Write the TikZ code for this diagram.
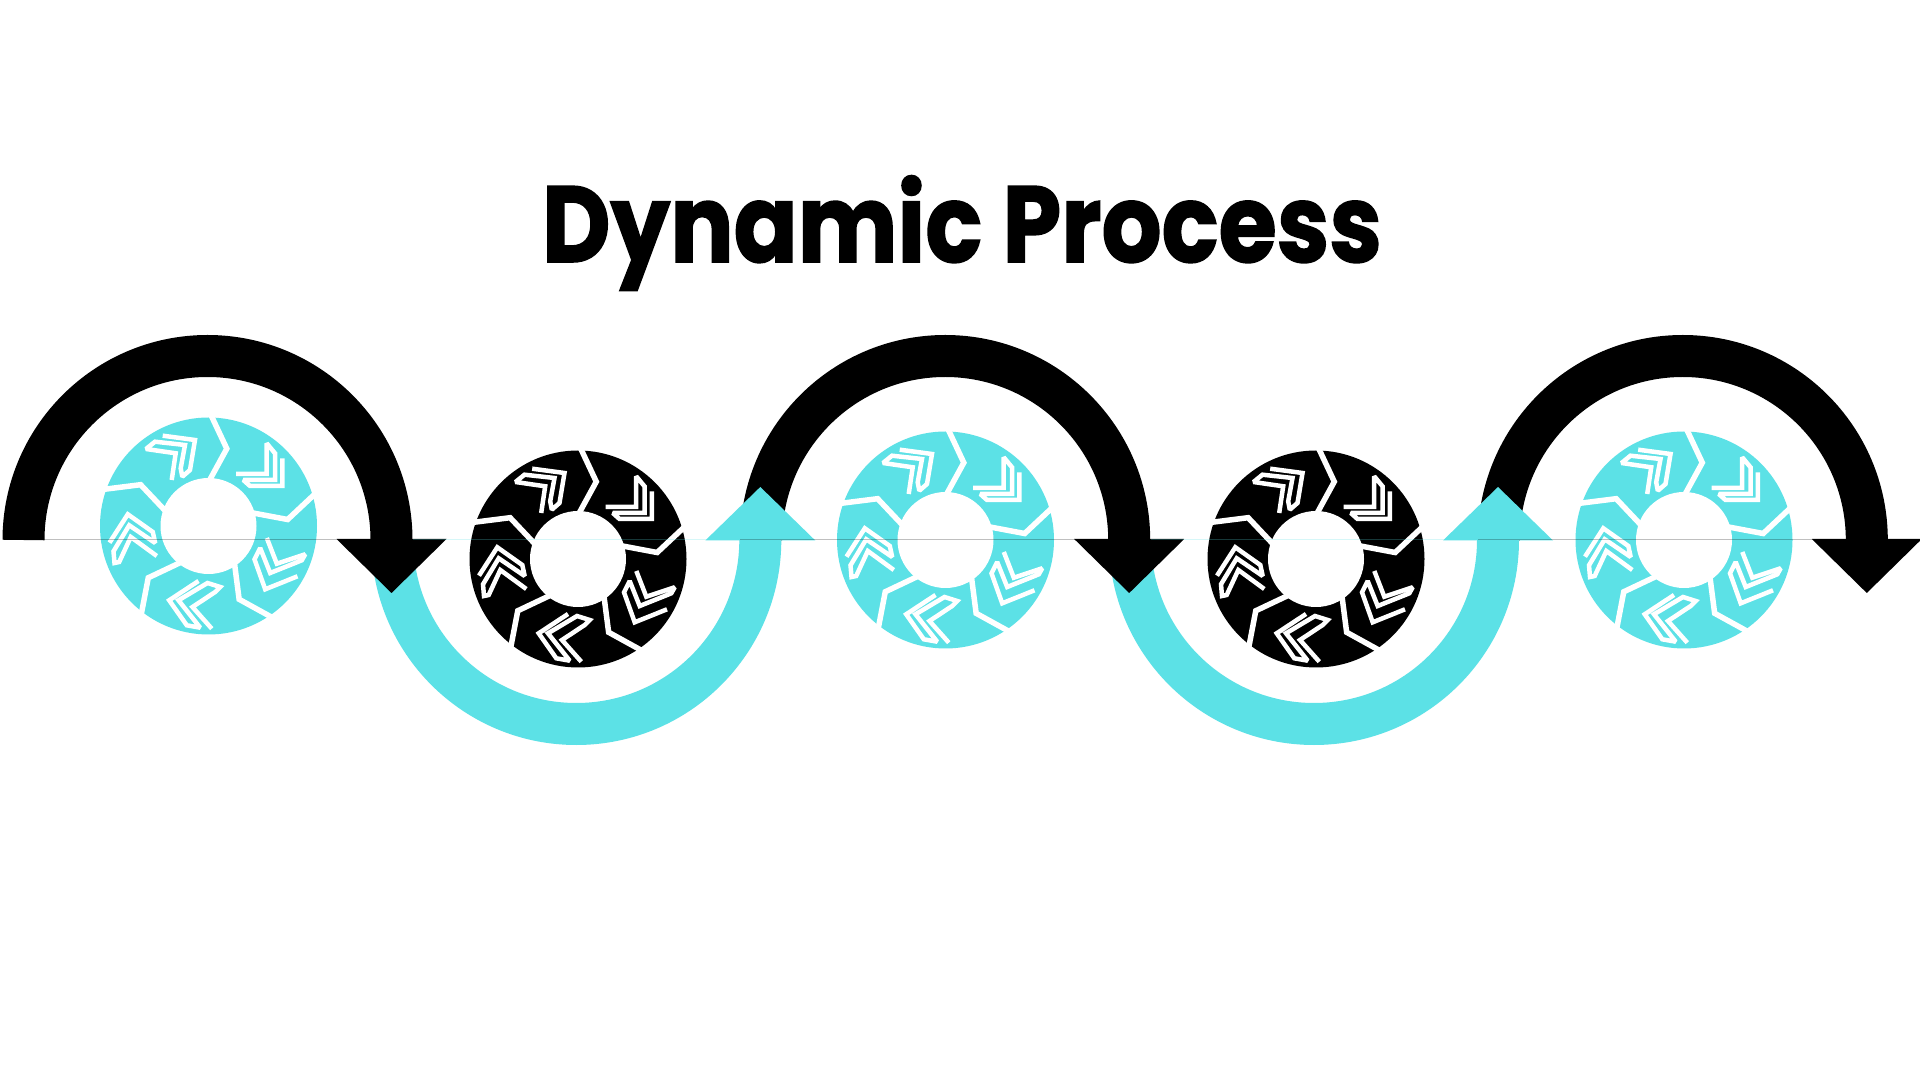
\documentclass[tikz,border=0pt]{standalone}
\usepackage{fontspec}
\setmainfont[BoldFeatures={FakeBold=1.5}]{Poppins}
\usepackage{xcolor,graphicx}
\usetikzlibrary{calc}
\definecolor{mycyan}{HTML}{5CE1E6}
\tikzset{
  discnode/.style={circle,inner sep=0pt,minimum size=217pt},
  holenode/.style={circle,fill=white,inner sep=0pt,minimum size=96pt},
  sepline/.style={white,line width=5.5pt,miter limit=10},
  chevline/.style={white,line width=4.5pt,miter limit=2},
  band/.style={line width=42pt},
  seam/.style={line width=1pt,opacity=.25}
}
\begin{document}
\begin{tikzpicture}[x=1pt,y=1pt]
  \useasboundingbox (0,0) rectangle (1920,1080);
  \fill[white] (0,0) rectangle (1920,1080);

  % the title
  \node[anchor=base] (title) at (962,818) {\scalebox{.873}[1]{\fontsize{108}{108}\selectfont\bfseries Dynamic Process}};

  % the bands, right to left so that each head lies on the next band
  \draw[band,black] (1498.8,540) arc (180:0:184);
  \fill[black] (1811.8,541) -- (1921.8,541) -- (1866.8,487) -- cycle;
  \draw[band,mycyan] (1130,540) arc (180:360:184);
  \fill[mycyan] (1443,539.5) -- (1553,539.5) -- (1498,593) -- cycle;
  \draw[band,black] (761.2,540) arc (180:0:184);
  \fill[black] (1074.2,541) -- (1184.2,541) -- (1129.2,487) -- cycle;
  \draw[band,mycyan] (392.3,540) arc (180:360:184);
  \fill[mycyan] (705.3,539.5) -- (815.3,539.5) -- (760.3,593) -- cycle;
  \draw[band,black] (23.5,540) arc (180:0:184);
  \fill[black] (336.5,541) -- (446.5,541) -- (391.5,487) -- cycle;

  % the discs
  \foreach \i/\xcoord/\ycoord/\col in {1/208.5/554/mycyan,2/578/521/black,3/945.5/540/mycyan,4/1316/521/black,5/1684/540/mycyan}{
    \node[discnode,fill=\col] (disc\i) at (\xcoord,\ycoord) {};
    \node[holenode] (hole\i) at (disc\i) {};
    \foreach \k in {0,...,4}{
      \draw[sepline,shift={(disc\i)},rotate=-72*\k] (2,112) -- (18.3,77.3) -- (1.2,46);
    }
    % the five chevrons
    \begin{scope}[shift={(disc\i)}]
      \draw[chevline] (-45.8,90.3) -- (-13.5,86) -- (-18.5,56) -- (-26.2,49.3) -- (-27.8,57.7) -- (-23.5,81) -- (-53.5,84.3) -- (-62.5,77) -- (-32.8,72.7) -- (-36.8,46);
      \draw[chevline] (73.8,67.7) -- (73.8,40) -- (41.5,40) -- (34.8,46) -- (66.5,46) -- (66.5,72.7) -- (58.2,82.7) -- (58.2,52) -- (27.5,52);
      \draw[chevline] (89,-50.3) -- (56.7,-63.3) -- (46,-33.3) -- (51.7,-22) -- (61.7,-47) -- (93.3,-34.3) -- (96.7,-28.3) -- (68.3,-37.7) -- (58.3,-12);
      \draw[chevline] (-10,-55) -- (-39.3,-74.3) -- (-21.7,-99.3) -- (-8.3,-101.7) -- (-30,-74.3) -- (-1,-57) -- (11.7,-61) -- (6.7,-66) -- (-16,-81) -- (3.3,-102.7);
      \draw[chevline] (-99,-16.7) -- (-80.7,11.7) -- (-55.7,-6) -- (-53.3,-17) -- (-79.3,.7) -- (-95,-25.3) -- (-94,-37) -- (-89.3,-36) -- (-77.7,-11) -- (-51.7,-30);
    \end{scope}
  }

  % the seams along the middle
  \foreach \xcoord in {207.5,945.2,1682.8}
    \draw[seam,black] (\xcoord-205,540) -- (\xcoord+163,540);
  \foreach \xcoord in {576.3,1314}
    \draw[seam,mycyan] (\xcoord-163,540) -- (\xcoord+163,540);
\end{tikzpicture}
\end{document}
